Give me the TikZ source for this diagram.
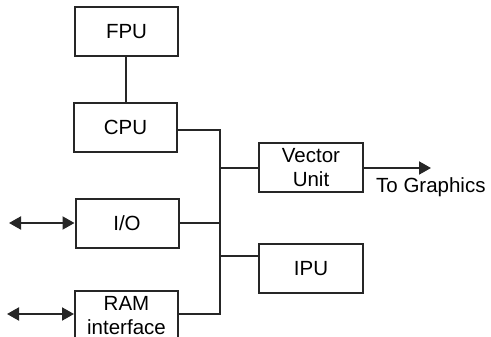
\documentclass[tikz,border=0pt]{standalone}
\usepackage{fontspec}
\setmainfont{Liberation Sans}
\usetikzlibrary{arrows.meta}
\begin{document}
\begin{tikzpicture}[x=1pt,y=-1pt,
  blk/.style={draw=black!85,line width=2pt,minimum width=103pt,minimum height=49pt,inner sep=0pt,align=center,font=\fontsize{20.5}{23.5}\selectfont},
  wire/.style={draw=black!85,line width=2pt},
  tip/.style={-{Triangle[length=12pt,width=13pt]}},
  dtip/.style={{Triangle[length=12pt,width=13pt]}-{Triangle[length=12pt,width=13pt]}},
  lbl/.style={font=\fontsize{20.5}{23.5}\selectfont,inner sep=0pt}]
\useasboundingbox (0,0) rectangle (491,337);
\clip (0,0) rectangle (491,337);
\fill[white] (0,0) rectangle (491,337);
\node[blk] (FPU) at (126.5,31.5) {FPU};
\node[blk] (CPU) at (125.5,127.5) {CPU};
\node[blk] (IO) at (127,223.5) {I/O};
\node[blk] (RAM) at (126.5,315.5) {RAM\\interface};
\node[blk,minimum width=104pt] (VU) at (311,167.5) {Vector\\Unit};
\node[blk,minimum width=104pt] (IPU) at (311,268.5) {IPU};
\node[lbl,anchor=west] (TG) at (376,187) {To Graphics};
\coordinate (bus) at (220,0);
\coordinate (gfx) at (431,168);
\coordinate (ioL) at (9,223);
\coordinate (ramL) at (7,314);
\draw[wire] (FPU.south -| 126,0) -- (CPU.north -| 126,0);
\draw[wire] ([yshift=-2.5pt]CPU.east) -| ([yshift=1.5pt]RAM.east -| bus) -- ([yshift=1.5pt]RAM.east);
\draw[wire] ([yshift=0.5pt]IO.east) -- ([yshift=0.5pt]IO.east -| bus);
\draw[wire] ([yshift=-0.5pt]VU.west) -- ([yshift=-0.5pt]VU.west -| bus);
\draw[wire] ([yshift=12.5pt]IPU.west) -- ([yshift=12.5pt]IPU.west -| bus);
\draw[wire,tip] ([yshift=-0.5pt]VU.east) -- (gfx);
\draw[wire,dtip] (ioL) -- ([yshift=0.5pt]IO.west);
\draw[wire,dtip] (ramL) -- ([yshift=1.5pt]RAM.west);
\end{tikzpicture}
\end{document}
